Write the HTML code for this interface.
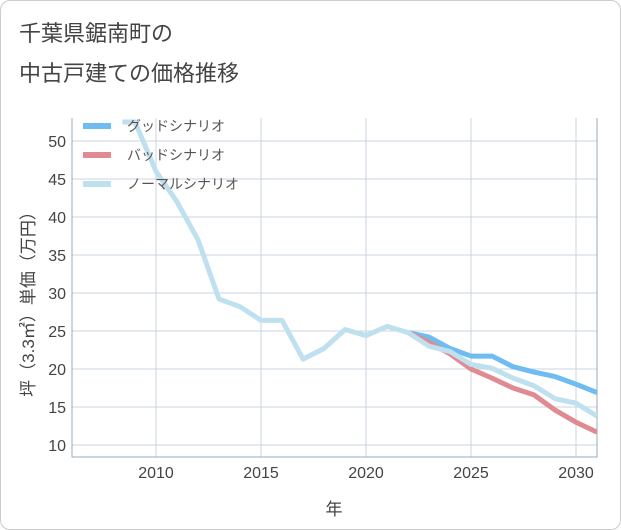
<!DOCTYPE html>
<html><head><meta charset="utf-8"><style>
body{margin:0;background:#fff;}
#card{position:absolute;left:0;top:0;width:619px;height:528px;border:1px solid #ccc;border-radius:10px;background:#fff;font-family:"Liberation Sans","Noto Sans CJK JP",sans-serif;}
.t{position:absolute;left:18px;font-size:22px;color:#444;}
</style></head><body>
<div id="card">
<div class="t" style="top:15px">千葉県鋸南町の</div>
<div class="t" style="top:55px">中古戸建ての価格推移</div>
<svg id="c" width="621" height="530" style="position:absolute;left:-1px;top:-1px" font-family="Liberation Sans, Noto Sans CJK JP, sans-serif"></svg>
</div>
<script>
const years=[2008.4,2009,2010,2011,2012,2013,2014,2015,2016,2017,2018,2019,2020,2021,2022,2023,2024,2025,2026,2027,2028,2029,2030,2031];
const normal=[52.5,52.5,46,42,37,29.2,28.2,26.4,26.4,21.3,22.7,25.2,24.4,25.6,24.8,23.0,22.3,20.6,20.1,18.8,17.8,16.1,15.5,13.8];
const fYears=[2022,2023,2024,2025,2026,2027,2028,2029,2030,2031];
const good=[24.8,24.2,22.7,21.7,21.7,20.3,19.6,19.0,18.0,16.9];
const bad=[24.8,23.5,22.0,20.0,18.8,17.5,16.6,14.6,13.0,11.7];
const xTicks=[2010,2015,2020,2025,2030];
const yTicks=[10,15,20,25,30,35,40,45,50];
const X0=72,X1=597,Y0=118,Y1=457;
const xs=v=>156+(v-2010)*21;
const ys=v=>445-(v-10)*7.6;
const svg=document.getElementById('c');const NS='http://www.w3.org/2000/svg';
function mk(t,a,p){const e=document.createElementNS(NS,t);for(const k in a)e.setAttribute(k,a[k]);(p||svg).appendChild(e);return e;}
const grid=mk('g',{});


for(const t of yTicks){const l=mk('line',{x1:X0,x2:X1,y1:ys(t),y2:ys(t),stroke:'#c8d4e0','stroke-width':1},grid);
const tx=mk('text',{x:66,y:ys(t)+6,'text-anchor':'end','font-size':16,fill:'#444'});tx.textContent=t;

}
for(const t of xTicks){mk('line',{x1:xs(t),x2:xs(t),y1:Y0,y2:Y1,stroke:'#c8d4e0','stroke-width':1},grid);
const tx=mk('text',{x:xs(t),y:478,'text-anchor':'middle','font-size':16,fill:'#444'});tx.textContent=t;

}
const ax=mk('path',{d:`M${X0} ${Y0}V${Y1}H${X1}V${Y0}`,fill:'none',stroke:'#9aa8b8','stroke-width':1});


const cp=mk('clipPath',{id:'cp'});mk('rect',{x:X0,y:Y0-10,width:X1-X0,height:Y1-Y0+10},cp);
function line(xv,yv,col,name){const p=mk('polyline',{points:xv.map((x,i)=>xs(x)+','+ys(yv[i])).join(' '),fill:'none',stroke:col,'stroke-width':5,'stroke-linejoin':'round','clip-path':'url(#cp)'});

}
line(fYears,good,'#6ebcf2','good-scenario-line');
line(fYears,bad,'#e08a92','bad-scenario-line');
line(years,normal,'#bfe0ee','normal-scenario-line');
const leg=[['グッドシナリオ','#6ebcf2'],['バッドシナリオ','#e08a92'],['ノーマルシナリオ','#bfe0ee']];
leg.forEach((l,i)=>{const y=126+i*29;const g=mk('g',{});


mk('line',{x1:83,x2:111,y1:y,y2:y,stroke:l[1],'stroke-width':6},g);
const t=mk('text',{x:127,y:y+5,'font-size':14,fill:'#555'},g);t.textContent=l[0];});
const yl=mk('text',{x:0,y:0,'font-size':17,fill:'#444','text-anchor':'middle',transform:'translate(34,300) rotate(-90)'});yl.textContent='坪（3.3㎡）単価（万円）';


const xl=mk('text',{x:334,y:515,'font-size':17,fill:'#444','text-anchor':'middle'});xl.textContent='年';


</script>
</body></html>
